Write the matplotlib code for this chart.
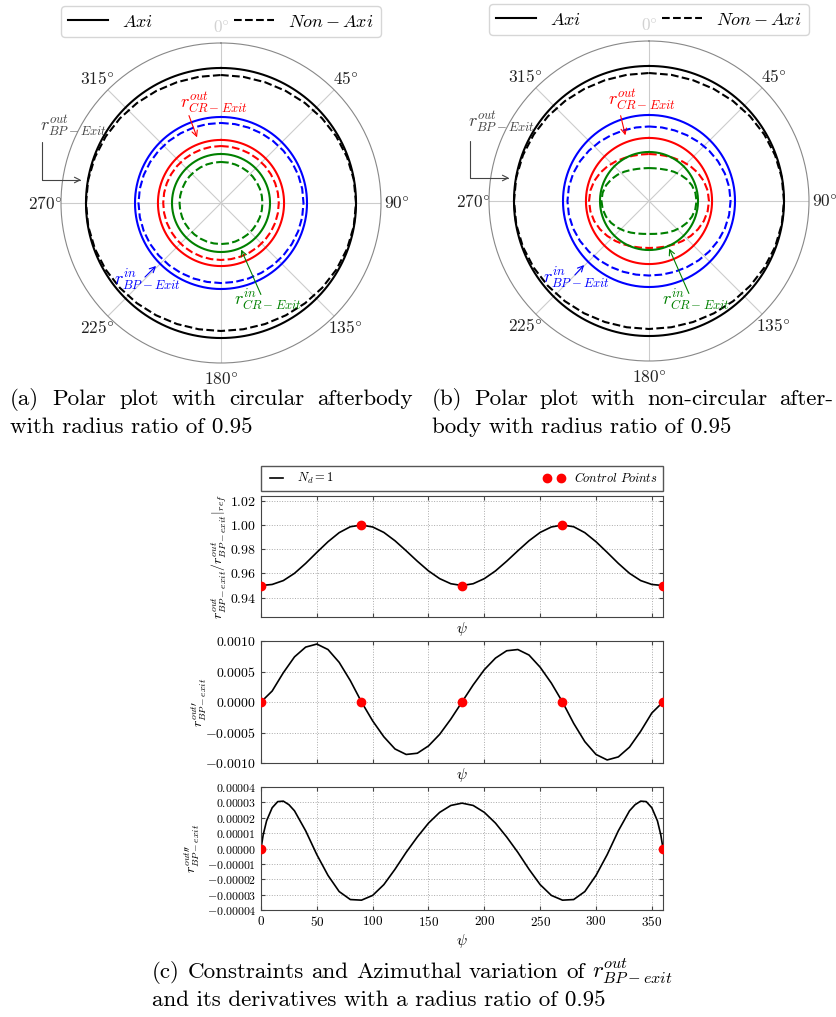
import numpy as np
import matplotlib.pyplot as plt
from matplotlib.patches import FancyArrowPatch

plt.rcParams['font.family'] = ['cmr10', 'DejaVu Serif']
plt.rcParams['mathtext.fontset'] = 'cm'
plt.rcParams['axes.unicode_minus'] = False

# azimuthal angle (deg)
psi = np.arange(0, 361, 10)
# r_out / r_out_ref
r_ratio = [0.9500, 0.9509, 0.9541, 0.9601, 0.9683, 0.9774, 0.9862, 0.9937, 0.9986, 1.0000,
           0.9984, 0.9939, 0.9870, 0.9787, 0.9701, 0.9621, 0.9557, 0.9515, 0.9500,
           0.9515, 0.9557, 0.9621, 0.9701, 0.9787, 0.9870, 0.9939, 0.9984, 1.0000,
           0.9986, 0.9937, 0.9862, 0.9774, 0.9683, 0.9601, 0.9541, 0.9509, 0.9500]
# first derivative
dr = [0.0, 0.00018, 0.00048, 0.00074, 0.00090, 0.00095, 0.00086, 0.00065, 0.00035, 0.0,
      -0.00031, -0.00057, -0.00077, -0.00086, -0.00084, -0.00072, -0.00053, -0.00028, 0.0,
      0.00028, 0.00053, 0.00072, 0.00084, 0.00086, 0.00077, 0.00057, 0.00031, 0.0,
      -0.00035, -0.00065, -0.00086, -0.00095, -0.00090, -0.00074, -0.00048, -0.00018, 0.0]
# second derivative
psi2 = [0, 2, 5, 10, 15, 20, 25, 30] + list(range(40, 330, 10)) + [330, 335, 340, 345, 350, 355, 358, 360]
d2r = [0.0, 0.9e-5, 1.8e-5, 2.65e-5, 3.05e-5, 3.08e-5, 2.85e-5, 2.45e-5,
       1.15e-5, -0.4e-5, -1.75e-5, -2.8e-5, -3.32e-5, -3.36e-5, -3.05e-5, -2.35e-5, -1.35e-5, -0.25e-5,
       0.75e-5, 1.65e-5, 2.35e-5, 2.8e-5, 2.95e-5, 2.8e-5, 2.35e-5, 1.65e-5, 0.75e-5, -0.25e-5,
       -1.35e-5, -2.35e-5, -3.05e-5, -3.36e-5, -3.32e-5, -2.8e-5, -1.75e-5, -0.4e-5, 1.15e-5,
       2.45e-5, 2.85e-5, 3.08e-5, 3.05e-5, 2.65e-5, 1.8e-5, 0.9e-5, 0.0]

# control points
cp_psi = [0, 90, 180, 270, 360]
cp_ratio = [0.95, 1.0, 0.95, 1.0, 0.95]
cp_dr = [0, 0, 0, 0, 0]
cp2_psi = [0, 360]
cp_d2r = [0, 0]

# polar radii (normalised by axi outer radius)
colors = ['black', 'blue', 'red', 'green']
r_axi = [1.0, 0.637, 0.467, 0.363]
# non-axi radii at psi=0 and psi=90
na_top_a = [0.948, 0.593, 0.422, 0.304]
na_side_a = [1.0, 0.611, 0.428, 0.307]
na_top_b = [0.948, 0.552, 0.348, 0.244]
na_side_b = [1.0, 0.604, 0.444, 0.352]

W, H = 837, 1017
fig = plt.figure(figsize=(W / 100, H / 100), dpi=100)


def box(x0, y0, x1, y1):
    return [x0 / W, 1 - y1 / H, (x1 - x0) / W, (y1 - y0) / H]


def fp(x, y):
    return (x / W, 1 - y / H)


def polar_panel(rect, tops, sides, notes):
    ax = fig.add_axes(rect, projection='polar')
    ax.set_theta_zero_location('N')
    ax.set_theta_direction(-1)
    th = np.linspace(0, 2 * np.pi, 361)
    shape = (np.array(r_ratio) - min(r_ratio)) / (max(r_ratio) - min(r_ratio))
    for i, c in enumerate(colors):
        ax.plot(th, np.full_like(th, r_axi[i]), color=c, lw=1.5,
                label='$Axi$' if i == 0 else None)
        ax.plot(np.deg2rad(psi), tops[i] + (sides[i] - tops[i]) * shape, color=c,
                lw=1.5, ls='--', label='$Non-Axi$' if i == 0 else None)
    ax.set_ylim(0, 1.185)
    ax.set_yticks([])
    ax.set_thetagrids(range(0, 360, 45),
                      labels=[f'${a}\\degree$' for a in range(0, 360, 45)])
    ax.tick_params(axis='x', labelsize=12.5, colors='#222222', pad=1)
    ax.grid(color='#cccccc', lw=0.8)
    ax.spines['polar'].set_color('#888888')
    ax.spines['polar'].set_linewidth(0.8)
    ax.legend(loc='lower left', bbox_to_anchor=(0, 1.019, 1, 0.1), mode='expand', ncol=2,
              fontsize=13, handlelength=2.2, handletextpad=0.8, borderaxespad=0)
    for txt, c, tpos, start, end, conn in notes:
        fig.text(*fp(*tpos), txt, color=c, fontsize=13, ha='left', va='center')
        fig.patches.append(FancyArrowPatch(
            fp(*start), fp(*end), transform=fig.transFigure, arrowstyle='->',
            mutation_scale=10, color=c, lw=0.8, connectionstyle=conn))
    return ax


straight = 'arc3,rad=0'
corner = 'angle,angleA=90,angleB=0,rad=0'
polar_panel(box(61, 43, 381, 363), na_top_a, na_side_a, [
    (r'$r^{out}_{BP-Exit}$', '#444444', (40, 126), (42, 139), (84, 180), corner),
    (r'$r^{out}_{CR-Exit}$', 'red', (180, 103), (188, 113), (198, 140), straight),
    (r'$r^{in}_{BP-Exit}$', 'blue', (114, 280), (143, 279), (158, 264), straight),
    (r'$r^{in}_{CR-Exit}$', 'green', (234, 300), (262, 297), (240, 247), straight),
])
polar_panel(box(489, 41, 809, 361), na_top_b, na_side_b, [
    (r'$r^{out}_{BP-Exit}$', '#444444', (468, 122), (470, 138), (512, 178), corner),
    (r'$r^{out}_{CR-Exit}$', 'red', (608, 100), (620, 113), (626, 138), straight),
    (r'$r^{in}_{BP-Exit}$', 'blue', (543, 278), (573, 277), (586, 263), straight),
    (r'$r^{in}_{CR-Exit}$', 'green', (662, 300), (690, 296), (668, 246), straight),
])

# line plots
ax1 = fig.add_axes(box(261, 496, 663, 617))
ax2 = fig.add_axes(box(261, 641, 663, 763))
ax3 = fig.add_axes(box(261, 787, 663, 910))

ax1.plot(psi, r_ratio, color='black', lw=1.2, label='$N_d = 1$')
ax1.plot(cp_psi, cp_ratio, 'o', color='red', ms=6, label='$Control\\ Points$', zorder=3)
ax2.plot(psi, dr, color='black', lw=1.2)
ax2.plot(cp_psi, cp_dr, 'o', color='red', ms=6, zorder=3)
ax3.plot(psi2, d2r, color='black', lw=1.2)
ax3.plot(cp2_psi, cp_d2r, 'o', color='red', ms=6, zorder=3)

ax1.set_ylim(0.924, 1.024)
t1 = [0.94, 0.96, 0.98, 1.00, 1.02]
ax1.set_yticks(t1)
ax1.set_yticklabels([f'${v:.2f}$' for v in t1])
ax2.set_ylim(-0.001, 0.001)
t2 = [-0.001, -0.0005, 0, 0.0005, 0.001]
ax2.set_yticks(t2)
ax2.set_yticklabels([f'${v:.4f}$' for v in t2])
ax3.set_ylim(-0.00004, 0.00004)
t3 = [-4e-5, -3e-5, -2e-5, -1e-5, 0, 1e-5, 2e-5, 3e-5, 4e-5]
ax3.set_yticks(t3)
ax3.set_yticklabels([f'${v:.5f}$' for v in t3])

for ax in (ax1, ax2, ax3):
    ax.set_xlim(0, 360)
    ax.set_xticks(range(0, 360, 50))
    ax.grid(True, ls=':', color='#aaaaaa', lw=0.7)
    for s in ax.spines.values():
        s.set_color('#444444')
    ax.tick_params(direction='in', length=3, top=True, right=True, color='#444444',
                   labelsize=10)
    ax.set_xlabel(r'$\psi$', fontsize=11, labelpad=2)
ax1.tick_params(labelbottom=False)
ax2.tick_params(labelbottom=False)
ax3.tick_params(axis='y', labelsize=8.5)
ax3.tick_params(axis='x', labelsize=9.5)
ax3.set_xticklabels([f'${v}$' for v in range(0, 360, 50)])

ax1.set_ylabel(r'$r^{out}_{BP-exit}/r^{out}_{BP-exit}|_{ref}$', fontsize=10)
ax1.yaxis.set_label_coords(-0.08, 0.5)
ax2.set_ylabel(r'$r^{out\prime}_{BP-exit}$', fontsize=10)
ax2.yaxis.set_label_coords(-0.129, 0.5)
ax3.set_ylabel(r'$r^{out\prime\prime}_{BP-exit}$', fontsize=10)
ax3.yaxis.set_label_coords(-0.147, 0.5)

ax1.legend(loc='lower left', bbox_to_anchor=(0, 1.041, 1, 0.1), mode='expand', ncol=2,
           fontsize=9, fancybox=False, edgecolor='#555555', framealpha=1, numpoints=2,
           handlelength=1.7, borderaxespad=0)

# captions
renderer = fig.canvas.get_renderer()
CAP = 16.6


def justified(line, x0, x1, y):
    words = line.split(' ')
    texts = [fig.text(0, 0, w, fontsize=CAP, va='baseline') for w in words]
    widths = [t.get_window_extent(renderer).width for t in texts]
    gap = (x1 - x0 - sum(widths)) / (len(words) - 1)
    x = x0
    for t, w in zip(texts, widths):
        t.set_position(fp(x, y))
        x += w + gap


justified('(a) Polar plot with circular afterbody', 10, 413, 405)
fig.text(*fp(10, 433), 'with radius ratio of 0.95', fontsize=CAP, va='baseline')
justified('(b) Polar plot with non-circular after-', 432, 833, 405)
fig.text(*fp(432, 433), 'body with radius ratio of 0.95', fontsize=CAP, va='baseline')
justified(r'(c) Constraints and Azimuthal variation of $r^{out}_{BP-exit}$', 152, 673, 978)
fig.text(*fp(152, 1006), 'and its derivatives with a radius ratio of 0.95', fontsize=CAP,
         va='baseline')

fig.savefig('out.png', dpi=100)
